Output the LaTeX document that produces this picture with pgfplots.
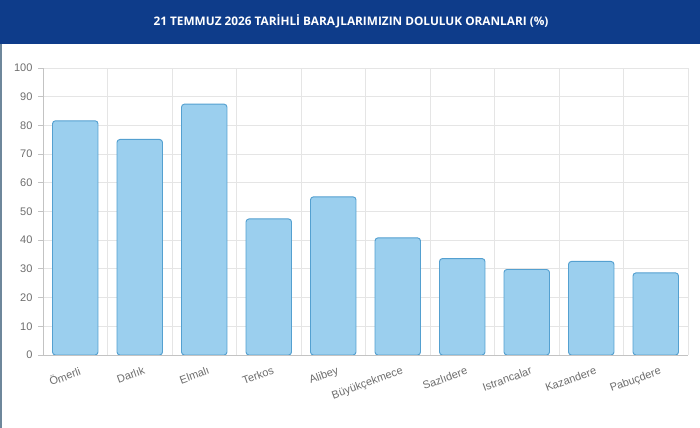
\documentclass[border=0pt]{standalone}
\usepackage{pgfplots}
\pgfplotsset{compat=1.18}
\usepackage{fontspec}
\setmainfont{Liberation Sans}
\newfontfamily\titlefont{Open Sans}

\definecolor{header}{RGB}{14,60,138}
\definecolor{barfill}{RGB}{155,207,238}
\definecolor{barline}{RGB}{84,160,208}
\definecolor{gridgray}{RGB}{229,229,229}
\definecolor{labelgray}{RGB}{110,110,110}
\definecolor{edge}{RGB}{110,135,155}

\pgfplotstableread{
idx value
0 81.6
1 75.1
2 87.4
3 47.4
4 55.1
5 40.8
6 33.6
7 29.8
8 32.6
9 28.6
}\damdata

\begin{document}
\begin{tikzpicture}[x=0.75pt,y=0.75pt]
  % page and header
  \fill[white] (0,0) rectangle (700,428);
  \fill[header] (0,384) rectangle (700,428);
  \fill[edge] (0,0) rectangle (2,384);
  \node[text=white, font=\titlefont\bfseries\fontsize{8.85}{10}\selectfont]
    at (351,407) {21 TEMMUZ 2026 TARİHLİ BARAJLARIMIZIN DOLULUK ORANLARI (\%)};

  \begin{axis}[
    at={(32.25pt,54.75pt)}, anchor=south west,
    width=483.75pt, height=215.25pt, scale only axis,
    xmin=-0.5, xmax=9.5,
    ymin=0, ymax=100,
    ytick={0,10,...,100},
    xtick={0,...,9},
    xticklabels={Ömerli,Darlık,Elmalı,Terkos,Alibey,Büyükçekmece,Sazlıdere,Istrancalar,Kazandere,Pabuçdere},
    minor xtick={-0.5,0.5,...,9.5},
    ymajorgrids, xminorgrids,
    grid style={gridgray, line width=0.6pt},
    minor grid style={gridgray, line width=0.6pt},
    axis line style={draw=gridgray!85!black, line width=0.6pt},
    axis x line*=bottom, axis y line*=left,
    tick align=outside,
    major tick length=3.4pt, minor tick length=4pt,
    xtick style={draw=none},
    ytick style={gridgray!85!black, line width=0.6pt},
    minor tick style={gridgray!85!black, line width=0.6pt},
    /pgf/number format/assume math mode=true,
    tick label style={font=\fontsize{8.25}{10}\selectfont, text=labelgray},
    yticklabel style={xshift=-1pt},
    xticklabel style={rotate=20, anchor=north east, yshift=-2pt, xshift=4pt},
    ybar, bar width=0.705,
  ]
    \addplot[fill=barfill, draw=barline, line width=0.7pt, rounded corners=2.2pt]
      table[x=idx, y=value] {\damdata};
  \end{axis}
\end{tikzpicture}
\end{document}
